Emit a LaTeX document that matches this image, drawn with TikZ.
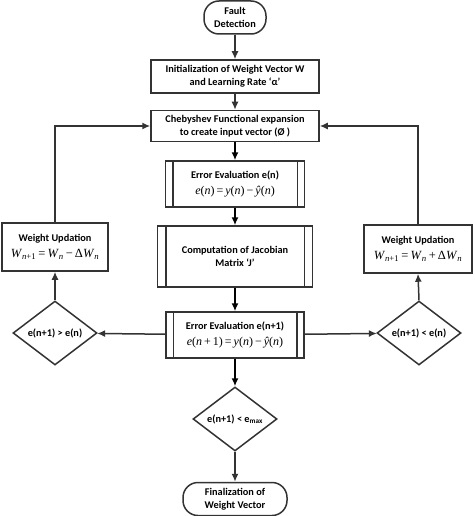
\documentclass[tikz,border=0pt]{standalone}
\usepackage{fontspec}
\setmainfont{Carlito}
\newfontfamily\tms{Liberation Serif}
\newcommand{\vi}[1]{\textit{#1}}
\newcommand{\sbs}[1]{\textsubscript{#1}}
\usetikzlibrary{shapes.geometric,arrows.meta}
\begin{document}
\begin{tikzpicture}[x=1pt,y=-1pt,
  base/.style={draw=black!80,line width=1.5pt,align=center,font=\bfseries\fontsize{10.3}{12.5}\selectfont,inner sep=1pt},
  term/.style={base,rounded corners=15pt},
  proc/.style={base},
  dec/.style={base,diamond,aspect=1.31,minimum width=84pt,minimum height=64pt,inner sep=0pt},
  arr/.style={draw=black!80,line width=1.5pt,-{Latex[length=8pt,width=7pt]}},
  ln/.style={draw=black!80,line width=1.5pt},
  eq/.style={}
]
\useasboundingbox (0,0) rectangle (474,516);
\node[term,minimum width=62pt,minimum height=33pt] (fault) at (235,17.5) {Fault\\Detection};
\node[proc,minimum width=168pt,minimum height=33pt] (init) at (235,76.5) {Initialization of Weight Vector W\\and Learning Rate ‘α’};
\node[proc,minimum width=168pt,minimum height=31pt] (cheb) at (235,126) {Chebyshev Functional expansion\\to create input vector (Ø )};
\node[proc,minimum width=139pt,minimum height=46pt] (e1) at (235,184) {Error Evaluation e(n)\\[3pt]\tms\mdseries\fontsize{12}{13}\selectfont \vi{e}(\vi{n})\,=\,\vi{y}(\vi{n})\,−\,\vi{ŷ}(\vi{n})};
\node[proc,minimum width=155pt,minimum height=61pt] (jac) at (235,256.5) {Computation of Jacobian\\Matrix ‘J’};
\node[proc,minimum width=138pt,minimum height=46pt] (e2) at (235,335) {Error Evaluation e(n+1)\\[3pt]\tms\mdseries\fontsize{12}{13}\selectfont \vi{e}(\vi{n}\,+\,1)\,=\,\vi{y}(\vi{n})\,−\,\vi{ŷ}(\vi{n})};
\node[proc,minimum width=106pt,minimum height=48pt] (wl) at (55,247) {Weight Updation\\[3pt]\tms\mdseries\fontsize{12.5}{13}\selectfont \vi{W}\sbs{\vi{n}+1}\,=\,\vi{W}\sbs{\vi{n}}\,−\,Δ\vi{W}\sbs{\vi{n}}};
\node[proc,minimum width=108pt,minimum height=48pt] (wr) at (418,249) {Weight Updation\\[3pt]\tms\mdseries\fontsize{12.5}{13}\selectfont \vi{W}\sbs{\vi{n}+1}\,=\,\vi{W}\sbs{\vi{n}}\,+\,Δ\vi{W}\sbs{\vi{n}}};
\node[dec] (dl) at (55,333) {e(n+1) > e(n)};
\node[dec] (dr) at (419,333) {e(n+1) < e(n)};
\node[dec] (db) at (235,419) {e(n+1) < e\textsubscript{max}};
\node[term,minimum width=104pt,minimum height=33pt] (fin) at (235,499) {Finalization of\\Weight Vector};
% double side lines
\foreach \n/\o in {e1/8,jac/9,e2/8}{
  \draw[ln] ([xshift=\o pt]\n.north west) -- ([xshift=\o pt]\n.south west);
  \draw[ln] ([xshift=-\o pt]\n.north east) -- ([xshift=-\o pt]\n.south east);
}
\coordinate (cl) at (55,126);
\coordinate (cr) at (418,126);
\draw[arr] (fault) -- (init);
\draw[arr] (init) -- (cheb);
\draw[arr,draw=black] (cheb) -- (e1);
\draw[arr,draw=black] (e1) -- (jac);
\draw[arr,draw=black] (jac) -- (e2);
\draw[arr,draw=black] (e2) -- (db);
\draw[arr] (db) -- (fin);
\draw[arr] (e2) -- (dl);
\draw[arr] (e2) -- (dr);
\draw[arr] (dl) -- (wl);
\draw[arr] (dr.north) -- (wr.south);
\draw[arr] (wl.north) -- (cl) -- (cheb.west);
\draw[arr] (wr.north) -- (cr) -- (cheb.east);
\end{tikzpicture}
\end{document}
